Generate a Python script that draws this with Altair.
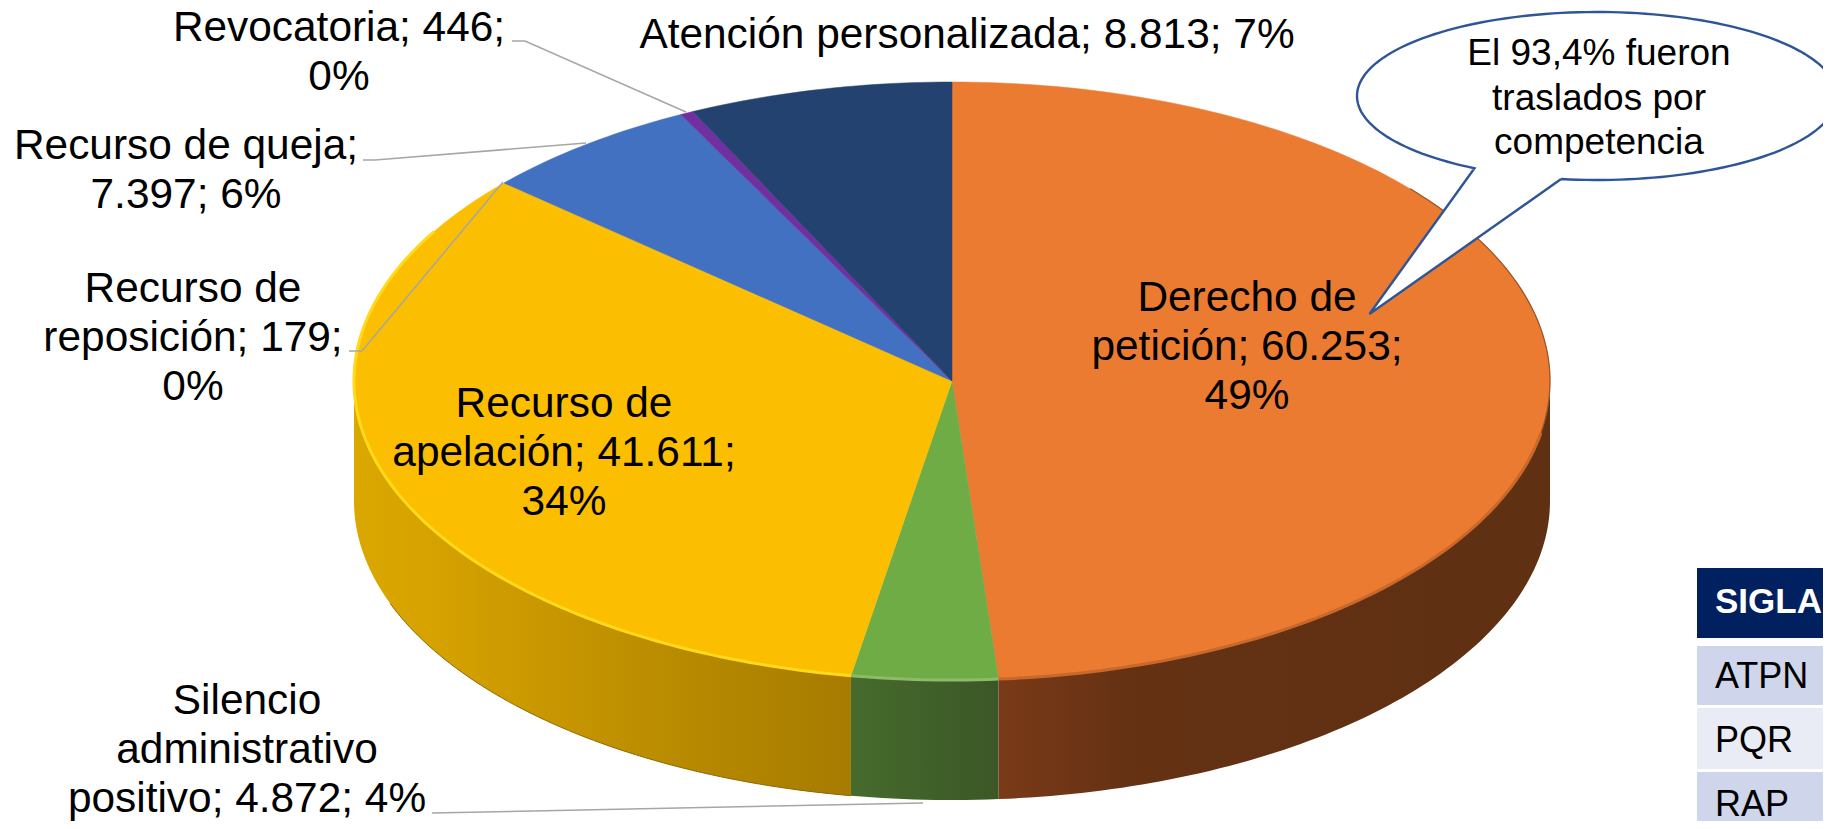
import math
import altair as alt
import pandas as pd

# ---- data
categories = ["Derecho de petición", "Silencio administrativo positivo", "Recurso de apelación",
              "Recurso de reposición", "Recurso de queja", "Revocatoria", "Atención personalizada"]
values = [60253, 4872, 41611, 179, 7397, 446, 8813]
top_colors = ["#EB7B30", "#6FAC46", "#FBBE00", "#FBBE00", "#4271C1", "#7030A0", "#23426F"]
label_lines = [["Derecho de", "petición; 60.253;", "49%"],
               ["Silencio", "administrativo", "positivo; 4.872; 4%"],
               ["Recurso de", "apelación; 41.611;", "34%"],
               ["Recurso de", "reposición; 179;", "0%"],
               ["Recurso de queja;", "7.397; 6%"],
               ["Revocatoria; 446;", "0%"],
               ["Atención personalizada; 8.813; 7%"]]
callout_lines = ["El 93,4% fueron", "traslados por", "competencia"]
table_labels = ["SIGLA", "ATPN", "PQR", "RAP"]

# ---- layout (picture pixels)
W, H, M = 1831, 829, 8
CX, CY, RX, RY, DEPTH = 952, 381, 598, 299, 120
FONT = "Liberation Sans"
label_anchor = [(1247, 311), (247, 714), (564, 417), (193, 302), (186, 159), (339, 41), (967, 48)]
LINE = 49
leaders = [[(512, 41), (525, 41), (686, 112)],
           [(363, 160), (375, 160), (586, 143)],
           [(349, 351), (362, 351), (503, 182)],
           [(432, 813), (923, 803)]]
x_scale = alt.Scale(domain=[M, W - M], range=[0, W - 2 * M], nice=False, zero=False)
y_scale = alt.Scale(domain=[M, H - M], range=[0, H - 2 * M], nice=False, zero=False)
X = alt.X("x:Q", scale=x_scale, axis=None)
Y = alt.Y("y:Q", scale=y_scale, axis=None)


def pt(deg, dy=0):
    a = math.radians(deg)
    return CX + RX * math.sin(a), CY - RY * math.cos(a) + dy


def sweep(a, b, step=1.0):
    n = max(2, int(abs(b - a) / step) + 1)
    return [a + (b - a) * k / (n - 1) for k in range(n)]


total = sum(values)
edges = [0]
for v in values:
    edges.append(edges[-1] + v / total * 360)


def poly(points, **mark):
    df = pd.DataFrame(points, columns=["x", "y"]).assign(i=range(len(points)))
    return alt.Chart(df).mark_line(clip=True, **mark).encode(x=X, y=Y, order="i:Q")


layers = []

# side wall: visible front half of each slice
def wall(a, b, stops):
    a, b = max(a, 90), min(b, 270)
    rows = []
    for t in sweep(a, b):
        x, y = pt(t)
        rows.append({"x": x, "y": y, "y2": y + DEPTH})
    df = pd.DataFrame(rows)
    grad = alt.Gradient(gradient="linear", x1=0, x2=1, y1=0, y2=0,
                        stops=[alt.GradientStop(offset=o, color=c) for o, c in stops])
    return alt.Chart(df).mark_area(fill=grad, clip=True).encode(x=X, y=Y, y2="y2:Q")


layers.append(wall(edges[0], edges[1], [(0, "#7A3A18"), (0.25, "#643113"), (1, "#5F3012")]))
layers.append(wall(edges[1], edges[2], [(0, "#466B2D"), (1, "#3B5726")]))
layers.append(wall(edges[2], edges[3], [(0, "#DBA800"), (0.2, "#D4A000"), (0.55, "#BE8F00"), (1, "#A67B00")]))
layers.append(poly([pt(t, DEPTH) for t in sweep(edges[2], 250)], stroke="#8C6A00", strokeWidth=1))

# top face
for k in range(len(values)):
    pts = [(CX, CY)] + [pt(t) for t in sweep(edges[k], edges[k + 1])] + [(CX, CY)]
    layers.append(poly(pts, fill=top_colors[k], strokeWidth=0.5, stroke=top_colors[k]))

# bevel highlight on the rim
layers.append(poly([pt(t) for t in sweep(edges[2], 300)], stroke="#FFD91A", strokeWidth=3))
layers.append(poly([pt(t) for t in sweep(edges[1], edges[2])], stroke="#8CBB6A", strokeWidth=3))
layers.append(poly([pt(t) for t in sweep(100, edges[1])], stroke="#C8682A", strokeWidth=3))
layers.append(poly([pt(t) for t in sweep(50, 100)], stroke="#9A5226", strokeWidth=1.2))

# leader lines
for pts in leaders:
    layers.append(poly(pts, stroke="#A6A6A6", strokeWidth=1.5))

# callout
ECX, ECY, ERX, ERY = 1597, 96, 240, 84
call = [(ECX + ERX * math.cos(math.radians(t)), ECY + ERY * math.sin(math.radians(t)))
        for t in sweep(98.6, -239.3, 2)]
call += [(1369.5, 314), call[0]]
layers.append(poly(call, fill="#FFFFFF", stroke="#2F5597", strokeWidth=2.4))

# table
table_rows = [(568, 638, "#002060"), (646, 705, "#CFD5EA"), (708, 769, "#E9EBF5"), (772, H - M, "#CFD5EA")]
tdf = pd.DataFrame([{"x": 1697, "x2": W - M, "y": a, "y2": b, "c": c} for a, b, c in table_rows])
layers.append(alt.Chart(tdf).mark_rect(clip=True).encode(
    x=X, x2="x2:Q", y=Y, y2="y2:Q", fill=alt.Fill("c:N", scale=None)))


def text(rows, size, **mark):
    df = pd.DataFrame(rows, columns=["x", "y", "t"])
    return alt.Chart(df).mark_text(font=FONT, fontSize=size, baseline="alphabetic", clip=True, **mark).encode(
        x=X, y=Y, text="t:N")


rows = []
for lines, (ax, ay) in zip(label_lines, label_anchor):
    for j, line in enumerate(lines):
        rows.append((ax, ay + j * LINE, line))
layers.append(text(rows, 42.4, align="center", color="#000000"))
layers.append(text([(1599, 65 + 44.5 * j, s) for j, s in enumerate(callout_lines)], 37, align="center", color="#000000"))
layers.append(text([(1715, 613, table_labels[0])], 35, align="left", color="#FFFFFF", fontWeight="bold"))
layers.append(text([(1715, b, s) for b, s in zip([688, 752, 816], table_labels[1:])], 36, align="left", color="#000000"))

chart = alt.layer(*layers).properties(
    width=W - 2 * M, height=H - 2 * M, padding=0, background="#FFFFFF"
).configure_view(stroke=None)
chart.save("out.html", embed_options={"renderer": "svg", "actions": False})
